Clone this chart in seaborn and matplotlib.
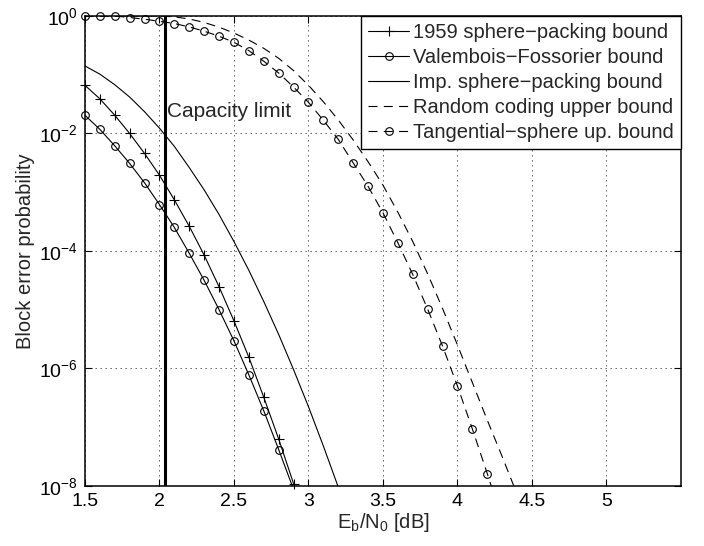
import numpy as np
import matplotlib
matplotlib.use("Agg")
import matplotlib.pyplot as plt
from matplotlib.lines import Line2D
from matplotlib.ticker import FixedLocator, FuncFormatter, NullLocator
import seaborn as sns

# values: Eb/N0 [dB] and log10(block error probability)
ebno_sp59 = [1.5, 1.6, 1.7, 1.8, 1.9, 2.0, 2.1, 2.2, 2.3, 2.4, 2.5, 2.6, 2.7, 2.8, 2.9, 3.0]
log_sp59 = [-1.18, -1.41, -1.69, -2.0, -2.34, -2.71, -3.13, -3.58, -4.07, -4.61, -5.19, -5.81,
            -6.49, -7.20, -7.96, -8.75]

ebno_vf = [1.5, 1.6, 1.7, 1.8, 1.9, 2.0, 2.1, 2.2, 2.3, 2.4, 2.5, 2.6, 2.7, 2.8, 2.9]
log_vf = [-1.69, -1.93, -2.21, -2.51, -2.84, -3.21, -3.60, -4.04, -4.50, -5.0, -5.53, -6.11,
          -6.72, -7.38, -8.06]

ebno_isp = [1.5, 1.6, 1.7, 1.8, 1.9, 2.0, 2.1, 2.2, 2.3, 2.4, 2.5, 2.6, 2.7, 2.8, 2.9, 3.0,
            3.1, 3.2, 3.3]
log_isp = [-0.85, -0.99, -1.17, -1.38, -1.63, -1.91, -2.22, -2.58, -2.96, -3.38, -3.84, -4.33,
           -4.86, -5.42, -6.02, -6.65, -7.32, -8.02, -8.75]

ebno_rc = [1.5, 1.6, 1.7, 1.8, 1.9, 2.0, 2.1, 2.2, 2.3, 2.4, 2.5, 2.6, 2.7, 2.8, 2.9, 3.0,
           3.1, 3.2, 3.3, 3.4, 3.5, 3.6, 3.7, 3.8, 3.9, 4.0, 4.1, 4.2, 4.3, 4.4]
log_rc = [0, 0, 0, 0, 0, 0, -0.015, -0.05, -0.11, -0.19, -0.29, -0.41, -0.55, -0.72, -0.93,
          -1.18, -1.46, -1.77, -2.11, -2.48, -2.88, -3.34, -3.84, -4.39, -4.98, -5.6, -6.24,
          -6.88, -7.5, -8.14]

ebno_tsb = [1.5, 1.6, 1.7, 1.8, 1.9, 2.0, 2.1, 2.2, 2.3, 2.4, 2.5, 2.6, 2.7, 2.8, 2.9, 3.0,
            3.1, 3.2, 3.3, 3.4, 3.5, 3.6, 3.7, 3.8, 3.9, 4.0, 4.1, 4.2, 4.3]
log_tsb = [0, 0, 0, -0.026, -0.055, -0.09, -0.128, -0.186, -0.259, -0.344, -0.448, -0.59,
           -0.77, -0.97, -1.21, -1.47, -1.775, -2.10, -2.50, -2.90, -3.35, -3.86, -4.40, -4.99,
           -5.62, -6.30, -7.03, -7.79, -8.58]

capacity_limit = 2.04
labels = ["1959 sphere\u2212packing bound", "Valembois\u2212Fossorier bound",
          "Imp. sphere\u2212packing bound", "Random coding upper bound",
          "Tangential\u2212sphere up. bound"]
x_ticks = [1.5, 2, 2.5, 3, 3.5, 4, 4.5, 5]
y_exps = [-8, -6, -4, -2, 0]

sns.set_style("ticks")
plt.rcParams['font.family'] = ['Liberation Sans', 'DejaVu Sans']
plt.rcParams['mathtext.default'] = 'regular'
plt.rcParams['lines.scale_dashes'] = False

fig = plt.figure(figsize=(7.04, 5.46), dpi=100)
ax = fig.add_axes([0.1207, 0.1099, 0.8466, 0.8608])
ax.set_yscale('log')

dash = (0, (6.5, 4.5))
series = [
    (ebno_sp59, log_sp59, '-', '+'),
    (ebno_vf, log_vf, '-', 'o'),
    (ebno_isp, log_isp, '-', None),
    (ebno_rc, log_rc, dash, None),
    (ebno_tsb, log_tsb, dash, 'o'),
]

handles = []
for (xs, ls_log, lstyle, mk), lab in zip(series, labels):
    xs = np.array(xs)
    ys = 10.0 ** np.array(ls_log)
    sns.lineplot(x=xs, y=ys, ax=ax, color='k', lw=0.8, linestyle=lstyle, sort=False)
    if mk is not None:
        # markers are not clipped at the frame, like in the original
        keep = ys >= 1e-8
        ax.plot(xs[keep], ys[keep], linestyle='none', marker=mk, ms=6.5 if mk == '+' else 5.5,
                mew=0.8, mec='k', mfc='none', clip_on=False, zorder=4)
    handles.append(Line2D([], [], color='k', lw=0.8, linestyle=lstyle, marker=mk,
                          ms=6.5 if mk == '+' else 5.5, mew=0.8, mfc='none', mec='k'))

ax.axvline(capacity_limit, color='k', lw=2.2, zorder=3)
ax.text(capacity_limit + 0.01, 10 ** -1.62, "Capacity limit", fontsize=15,
        ha='left', va='center')

ax.set_xlim(1.5, 5.5)
ax.set_ylim(1e-8, 1)
ax.xaxis.set_major_locator(FixedLocator(x_ticks))
ax.xaxis.set_major_formatter(FuncFormatter(lambda v, p: f"{v:g}"))
ax.yaxis.set_major_locator(FixedLocator([10.0 ** e for e in y_exps]))
ax.yaxis.set_major_formatter(FuncFormatter(lambda v, p: r"$10^{%d}$" % round(np.log10(v))))
ax.yaxis.set_minor_locator(NullLocator())
ax.tick_params(direction='in', length=5, width=0.8, top=True, right=True, labelsize=14,
               pad=5, colors='k')
ax.grid(True, which='major', color='0.25', linestyle=(0, (1, 2.6)), lw=0.6)
for s in ax.spines.values():
    s.set_linewidth(1.1)
    s.set_color('k')

ax.set_xlabel(r"$E_b/N_0$ [dB]", fontsize=14.5, labelpad=1)
ax.set_ylabel("Block error probability", fontsize=14.5, labelpad=3)

leg = ax.legend(handles=handles, labels=labels, loc='upper right', borderaxespad=0,
                fancybox=False, framealpha=1, edgecolor='k', fontsize=14.5,
                handlelength=2.05, handletextpad=0.2, labelspacing=0.3, borderpad=0.35)
leg.get_frame().set_linewidth(1.0)

fig.savefig("out.png", dpi=100)
